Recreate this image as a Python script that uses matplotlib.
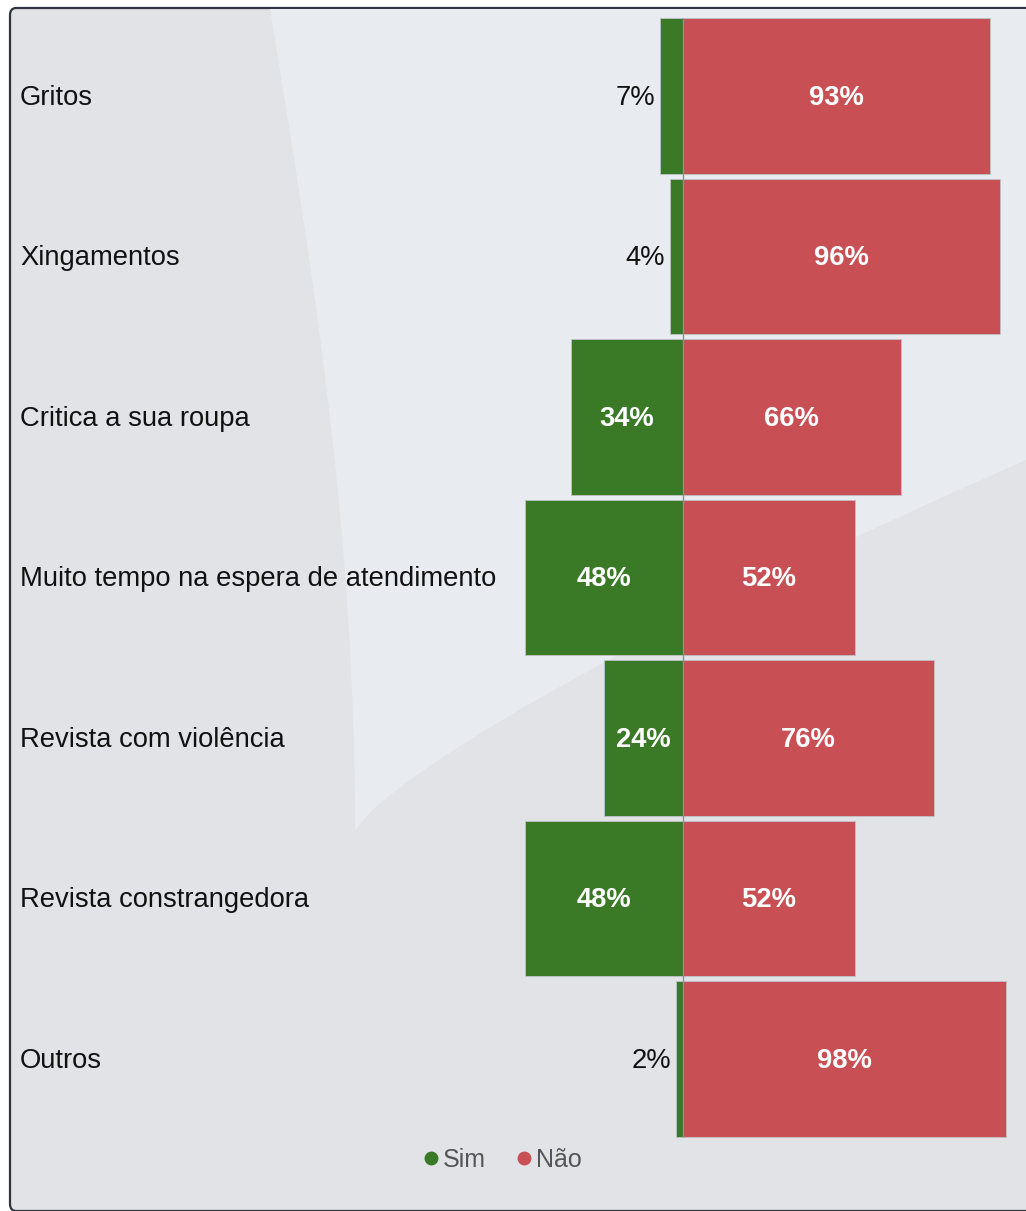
import numpy as np
import matplotlib.pyplot as plt
from matplotlib.patches import FancyBboxPatch, Polygon
from matplotlib.lines import Line2D

plt.rcParams['font.family'] = ['Liberation Sans', 'DejaVu Sans']

categorias = ['Gritos', 'Xingamentos', 'Critica a sua roupa',
              'Muito tempo na espera de atendimento', 'Revista com violência',
              'Revista constrangedora', 'Outros']
sim = [7, 4, 34, 48, 24, 48, 2]
nao = [93, 96, 66, 52, 76, 52, 98]

verde = '#3a7a27'
vermelho = '#c85055'

W, H = 1026, 1211
fig = plt.figure(figsize=(W / 100, H / 100), dpi=100)
fig.patch.set_facecolor('white')

# painel de fundo
painel = FancyBboxPatch((10 / W, 0), 1.1, (H - 8) / H, transform=fig.transFigure,
                        boxstyle='round,pad=0,rounding_size=0.006',
                        facecolor='#e1e3e7', edgecolor='#2f3440', linewidth=1.6,
                        zorder=0)
fig.patches.append(painel)

# faixa mais clara curva
t = np.linspace(0, 1, 40)
borda_esq = [((270 + 85 * np.sin(np.pi / 2 * s)) / W, 1 - (9 + 820 * s) / H) for s in t]
borda_inf = [((355 + 671 * s) / W, 1 - (830 - 370 * s ** 0.8) / H) for s in t]
pts = borda_esq + borda_inf + [(1, 1 - 9 / H)]
claro = Polygon(pts, closed=True, transform=fig.transFigure, facecolor='#e8ebf0',
                edgecolor='none', zorder=0.5)
fig.patches.append(claro)

# eixos: zero em x=683 px, 3.3 px por ponto percentual
escala = 3.3
zero = 683
ax = fig.add_axes([10 / W, 0, 1 - 10 / W, (H - 8) / H])
ax.set_zorder(2)
ax.set_xlim(-(zero - 10) / escala, (W - zero) / escala)
passo = 160.5
ax.set_ylim((H - 96) / passo, (8 - 96) / passo)
ax.axis('off')
ax.patch.set_alpha(0)

y = list(range(len(categorias)))
alt = 0.966
ax.barh(y, [-s for s in sim], height=alt, color=verde, edgecolor='#bfc3c8', linewidth=0.6, zorder=2)
ax.barh(y, nao, height=alt, color=vermelho, edgecolor='#bfc3c8', linewidth=0.6, zorder=2)
ax.vlines(0, -alt / 2, len(categorias) - 1 + alt / 2, color='#8a8f96', linewidth=1, zorder=3)

fs = 19.7
dy = 0.012
x_rot = -(zero - 20) / escala
for i, c in enumerate(categorias):
    ax.text(x_rot, i + dy, c, ha='left', va='center', fontsize=fs, color='#111111')
    ax.text(nao[i] / 2, i + dy, f'{nao[i]}%', ha='center', va='center', fontsize=fs,
            fontweight='bold', color='white', zorder=4)
    if sim[i] >= 15:
        ax.text(-sim[i] / 2, i + dy, f'{sim[i]}%', ha='center', va='center', fontsize=fs,
                fontweight='bold', color='white', zorder=4)
    else:
        ax.text(-sim[i] - 1.5, i + dy, f'{sim[i]}%', ha='right', va='center', fontsize=fs,
                color='#111111', zorder=4)

itens = [Line2D([], [], marker='o', linestyle='none', color=verde, markersize=9, label='Sim'),
         Line2D([], [], marker='o', linestyle='none', color=vermelho, markersize=9, label='Não')]
leg = fig.legend(handles=itens, loc='center', bbox_to_anchor=(500 / W, 1 - 1160 / H), ncol=2,
                 frameon=False, fontsize=18, handletextpad=0.0, columnspacing=1.0,
                 labelcolor='#555555', handlelength=1.0)
leg.set_zorder(3)

fig.savefig('out.png', dpi=100)
